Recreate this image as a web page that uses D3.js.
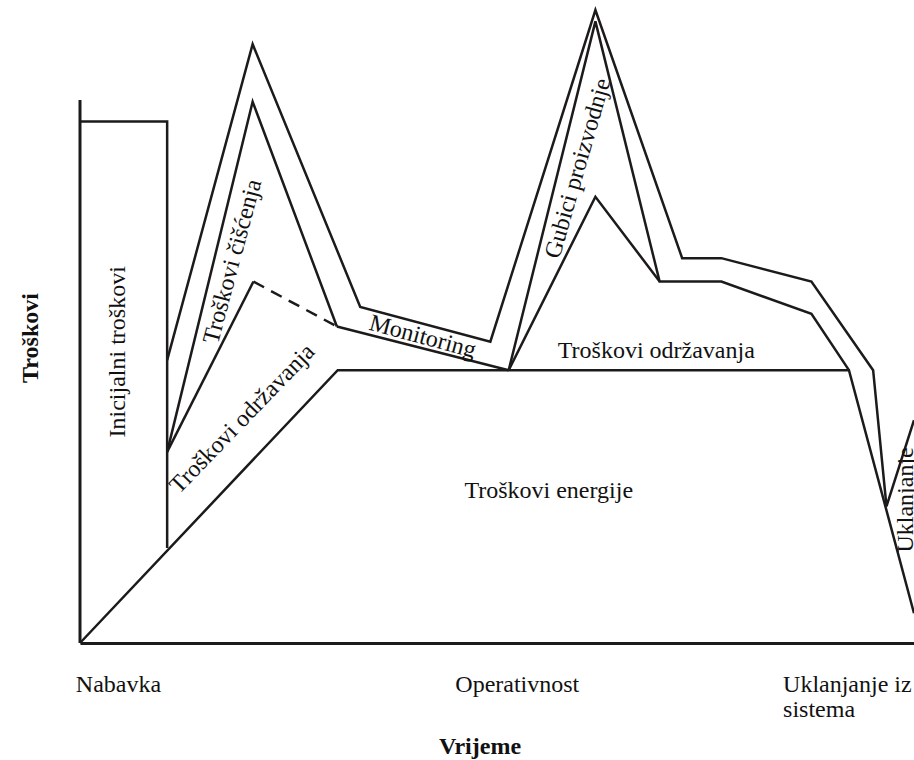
<!DOCTYPE html>
<html>
<head>
<meta charset="utf-8">
<script src="https://cdn.jsdelivr.net/npm/d3@7"></script>
<style>
  body { margin: 0; background: #fff; }
  svg { display: block; }
  text { font-family: "Liberation Serif", "Times New Roman", serif; fill: #111; }
</style>
</head>
<body>
<div id="chart"></div>
<script>
// life-cycle cost chart, values in arbitrary time / cost units
const yAxisTop = 85.8;
const initialCost = [[0, 82.4], [10.45, 82.4], [10.45, 15.0]];
const energy = [[0, 0], [30.9, 43.1], [92.2, 43.1], [100, 4.7]];
const maintenanceStart = [[10.45, 30.2], [20.8, 57.1]];
const maintenanceDashed = [[20.8, 57.1], [30.8, 50.0]];
const maintenanceEnd = [[30.8, 50.0], [51.4, 43.1]];
const maintenancePeak = [[51.4, 43.1], [61.8, 70.5], [69.5, 57.1]];
const cleaning = [[10.45, 30.2], [20.7, 85.5], [30.8, 50.0]];
const productionLoss = [[51.4, 43.1], [61.8, 98.2], [69.5, 57.1], [76.9, 57.1], [87.7, 52.0], [92.2, 43.1]];
const monitoring = [[10.45, 44.7], [20.7, 94.6], [33.6, 53.1], [49.2, 47.6], [61.8, 100],
    [72.2, 60.8], [76.9, 60.8], [87.7, 57.1], [95.1, 43.1], [96.7, 21.6], [100, 35.2]];

const areaLabels = [
    {text: "Inicijalni troškovi", t: 4.4, c: 46.0, rot: -90},
    {text: "Troškovi čišćenja", t: 18.2, c: 60.3, rot: -75},
    {text: "Troškovi održavanja", t: 19.4, c: 35.5, rot: -46},
    {text: "Monitoring", t: 41.1, c: 48.5, rot: 15},
    {text: "Gubici proizvodnje", t: 59.6, c: 75.0, rot: -74},
    {text: "Troškovi održavanja", t: 69.1, c: 46.3, rot: 0},
    {text: "Troškovi energije", t: 56.2, c: 24.2, rot: 0},
    {text: "Uklanjanje", t: 98.9, c: 22.6, rot: -90}
];
const phases = ["Nabavka", "Operativnost", "Uklanjanje iz|sistema"];
const phaseStart = [-0.5, 45.0, 84.3];

const width = 914, height = 760;
const svg = d3.select("#chart").append("svg")
    .attr("width", width)
    .attr("height", height);

const x = d3.scaleLinear().domain([0, 100]).range([80, 914]);
const y = d3.scaleLinear().domain([0, 100]).range([643, 10]);

const line = d3.line().x(d => x(d[0])).y(d => y(d[1]));
const ink = "#1c1a1a";

// axes (no ticks)
svg.append("g")
    .attr("transform", "translate(0," + y(0) + ")")
    .call(d3.axisBottom(x).tickValues([]).tickSizeOuter(0))
    .select(".domain").attr("stroke", ink).attr("stroke-width", 3);
svg.append("path")
    .attr("d", line([[0, 0], [0, yAxisTop]]))
    .attr("fill", "none").attr("stroke", ink).attr("stroke-width", 3);

const solid = [initialCost, energy, maintenanceStart, maintenanceEnd, maintenancePeak,
    cleaning, productionLoss, monitoring];
svg.selectAll("path.cost").data(solid).join("path")
    .attr("class", "cost")
    .attr("d", line)
    .attr("fill", "none")
    .attr("stroke", ink)
    .attr("stroke-width", 2.5)
    .attr("stroke-linejoin", "miter");

svg.append("path")
    .attr("d", line(maintenanceDashed))
    .attr("fill", "none")
    .attr("stroke", ink)
    .attr("stroke-width", 2.5)
    .attr("stroke-dasharray", "12,8");

svg.selectAll("text.area").data(areaLabels).join("text")
    .attr("class", "area")
    .attr("transform", d => "translate(" + x(d.t) + "," + y(d.c) + ") rotate(" + d.rot + ")")
    .attr("text-anchor", "middle")
    .attr("dominant-baseline", "central")
    .attr("font-size", 24)
    .text(d => d.text);

const ph = svg.selectAll("text.phase").data(phases).join("text")
    .attr("class", "phase")
    .attr("x", (d, i) => x(phaseStart[i]))
    .attr("y", 684)
    .attr("dominant-baseline", "central")
    .attr("font-size", 24);
ph.selectAll("tspan").data(d => d.split("|")).join("tspan")
    .attr("x", function() { return d3.select(this.parentNode).attr("x"); })
    .attr("dy", (d, i) => i === 0 ? 0 : 25)
    .text(d => d);

svg.append("text")
    .attr("x", 480).attr("y", 746)
    .attr("text-anchor", "middle")
    .attr("dominant-baseline", "central")
    .attr("font-size", 24).attr("font-weight", "bold")
    .text("Vrijeme");

svg.append("text")
    .attr("transform", "translate(30,338) rotate(-90)")
    .attr("text-anchor", "middle")
    .attr("dominant-baseline", "central")
    .attr("font-size", 24).attr("font-weight", "bold")
    .text("Troškovi");
</script>
</body>
</html>
